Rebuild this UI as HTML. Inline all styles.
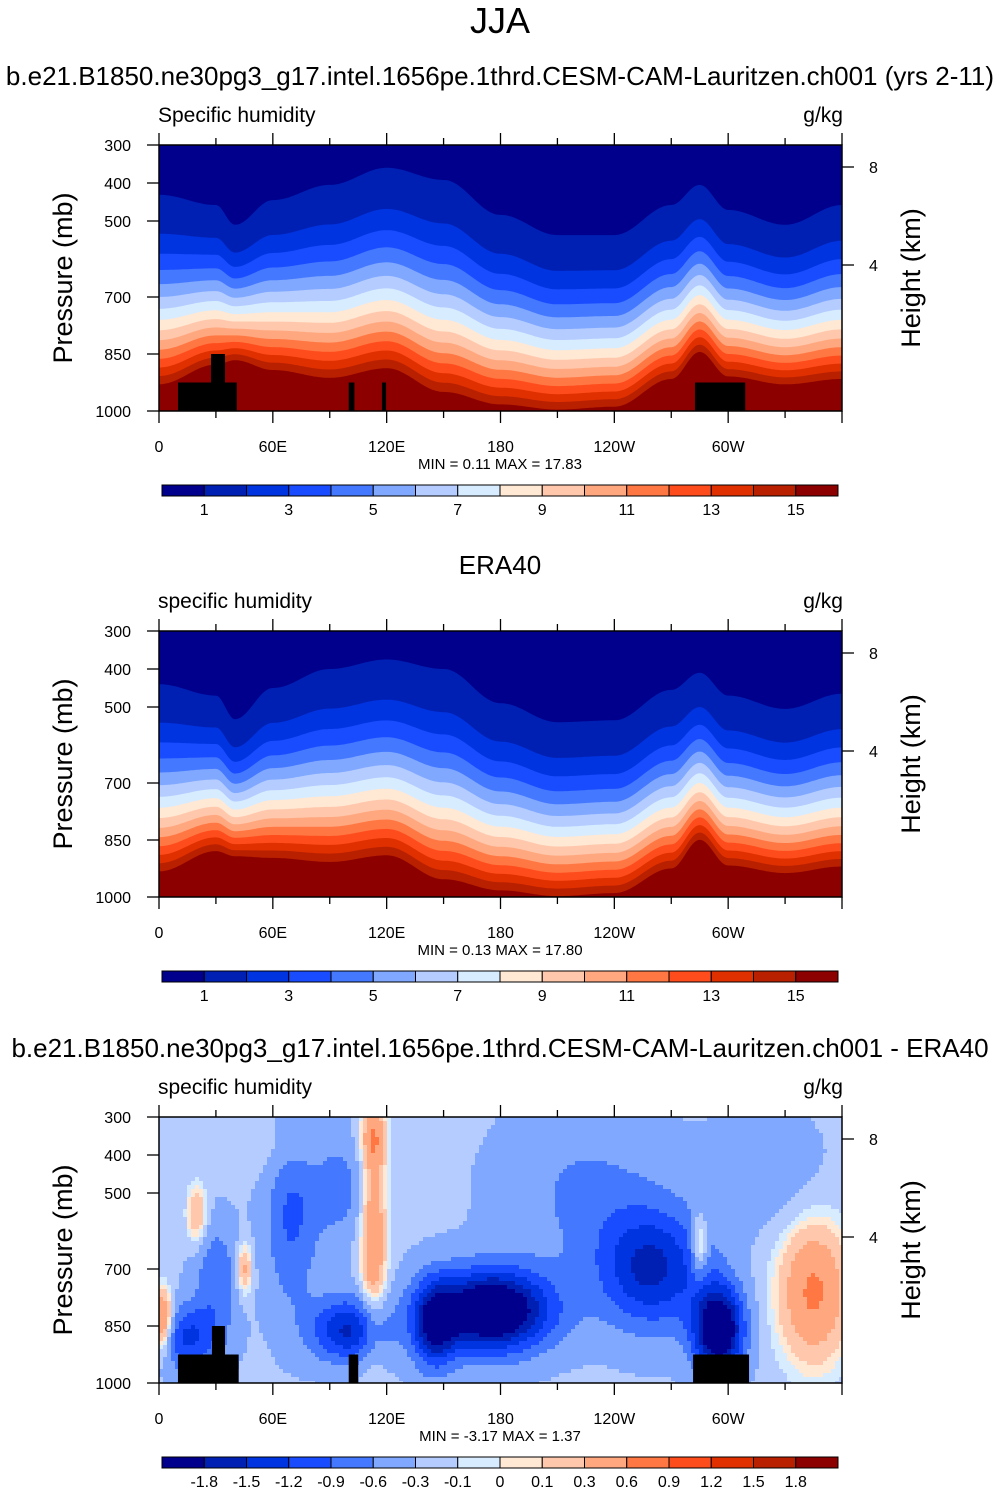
<!DOCTYPE html>
<html><head><meta charset="utf-8">
<style>
body{margin:0;background:#fff;}
svg{display:block;font-family:"Liberation Sans",Arial,sans-serif;}
</style></head>
<body>
<svg id="root" width="1001" height="1492" viewBox="0 0 1001 1492"></svg>
<script>
// ===== data =====
const colors=["#00008c","#0020b4","#0034e0","#1a4cff","#4478ff","#80a8ff","#b4ccff","#d8ecff","#ffe8d4","#ffc8ac","#ffa880","#ff7844","#ff4c1c","#e03000","#b82000","#8c0000"];
const qLevels=[1,2,3,4,5,6,7,8,9,10,11,12,13,14,15];
const qLabels=["1","3","5","7","9","11","13","15"];
const dLevels=[-1.8,-1.5,-1.2,-0.9,-0.6,-0.3,-0.1,0,0.1,0.3,0.6,0.9,1.2,1.5,1.8];
const dLabels=["-1.8","-1.5","-1.2","-0.9","-0.6","-0.3","-0.1","0","0.1","0.3","0.6","0.9","1.2","1.5","1.8"];
const lonPts=[0,30,40,60,90,120,150,180,210,240,270,285,300,330,360];
// pressure (mb) of q=1 g/kg and q=8 g/kg contours
const modelP1=[431,458,510,445,405,360,392,484,537,537,458,405,471,510,458];
const modelP8=[760,735,745,740,740,708,760,813,840,835,760,695,760,787,760];
const eraP1=[440,470,532,450,400,375,400,490,540,535,455,410,470,505,465];
const eraP8=[765,740,770,745,735,715,765,815,842,835,765,700,765,790,765];
// difference field blobs: lon, pressure, amplitude, sigma-lon, sigma-p
const diffBase=-0.25;
const diffBlobs=[
 [175,810,-2.3,22,75],[260,700,-1.3,20,110],[70,560,-0.7,10,170],[113,620,0.85,5,200],[113,350,0.6,5,60],
 [15,880,-1.0,12,60],[2,840,1.2,4,60],[45,700,0.7,3,50],[295,860,-2.2,9,80],[285,640,0.8,3,60],
 [345,760,0.9,14,140],[100,860,-1.3,14,60],[145,850,-1.3,8,80],[20,560,0.6,4,60],[95,480,-0.5,10,100],
 [225,500,-0.4,30,150],[320,450,-0.3,20,100],[30,720,-0.6,8,100],[60,380,0.2,20,60]];
const terrainModel=[[10,41,925],[27.4,34.8,850],[100,103,925],[117.5,119.7,925],[282.5,309,925]];
const terrainDiff=[[10,42,925],[27.9,34.8,850],[100,105,925],[281.5,311,925]];
const presTicks=[300,400,500,700,850,1000];
const lonTicks=[0,60,120,180,240,300];
const lonTickLabels=["0","60E","120E","180","120W","60W"];
// ===== helpers =====
const NS="http://www.w3.org/2000/svg";
const root=document.getElementById('root');
function el(tag,attrs,parent){const e=document.createElementNS(NS,tag);for(const k in attrs)e.setAttribute(k,attrs[k]);(parent||root).appendChild(e);return e;}
const X0=159,X1=842,PW=X1-X0;
function xs(lon){return X0+lon*PW/360;}
function interp(arr,lon){
 for(let i=0;i<lonPts.length-1;i++){if(lon<=lonPts[i+1]){const t=(lon-lonPts[i])/(lonPts[i+1]-lonPts[i]);const s=(1-Math.cos(Math.PI*t))/2;return arr[i]+(arr[i+1]-arr[i])*s;}}
 return arr[arr.length-1];}
function text(str,x,y,size,anchor,parent,name){const t=el('text',{x:x,y:y,'font-size':size,'text-anchor':anchor||'start',fill:'#000'},parent);t.textContent=str;
 
 return t;}
function panel(oy,type,p1,p8,terr,minmax,name){
 const g=el('g',{});
 
 
 const Y0=145+oy,Y1=411+oy;
 const ys=p=>Y0+(p-300)*(Y1-Y0)/700;
 const clip='c'+oy;
 const cp=el('clipPath',{id:clip},g);el('rect',{x:X0,y:Y0,width:PW,height:Y1-Y0},cp);
 const fg=el('g',{'clip-path':'url(#'+clip+')'},g);
 if(type==='q'){
  el('rect',{x:X0,y:Y0,width:PW,height:Y1-Y0,fill:colors[0]},fg);
  qLevels.forEach((L,i)=>{
   let d='M'+X0+','+Y1;
   const f=Math.pow((L-1)/7,0.6);
   for(let lon=0;lon<=360;lon+=1){const a=interp(p1,lon),b=interp(p8,lon);const p=a+(b-a)*f;d+=' L'+xs(lon).toFixed(1)+','+ys(p).toFixed(1);}
   d+=' L'+X1+','+Y1+'Z';
   const path=el('path',{d:d,fill:colors[i+1]},fg);
   
   
  });
 } else {
  const cw=4,ch=4;
  for(let x=X0;x<X1;x+=cw){for(let y=Y0;y<Y1;y+=ch){
   const lon=(x+cw/2-X0)*360/PW,p=300+(y+ch/2-Y0)*700/(Y1-Y0);
   let v=diffBase;diffBlobs.forEach(b=>{const dl=(lon-b[0])/b[3],dp=(p-b[1])/b[4];v+=b[2]*Math.exp(-0.5*(dl*dl+dp*dp));});
   let k=0;while(k<dLevels.length&&v>=dLevels[k])k++;
   el('rect',{x:x,y:y,width:cw+0.5,height:ch+0.5,fill:colors[k]},fg);
  }}
 }
 terr.forEach(t=>{const r=el('rect',{x:xs(t[0]),y:ys(t[2]),width:xs(t[1])-xs(t[0]),height:Y1-ys(t[2]),fill:'#000'},fg);
  
  });
 el('rect',{x:X0,y:Y0,width:PW,height:Y1-Y0,fill:'none',stroke:'#000','stroke-width':1.5},g);
 for(let lon=0;lon<=360;lon+=30){const major=lon%60===0;const len=major?12:7;const x=xs(lon);
  el('line',{x1:x,y1:Y1,x2:x,y2:Y1+len,stroke:'#000','stroke-width':1.3},g);
  el('line',{x1:x,y1:Y0,x2:x,y2:Y0-len,stroke:'#000','stroke-width':1.3},g);}
 lonTicks.forEach((l,i)=>text(lonTickLabels[i],xs(l),Y1+41,16,'middle',g,'x-tick-label'));
 presTicks.forEach(p=>{el('line',{x1:X0,y1:ys(p),x2:X0-12,y2:ys(p),stroke:'#000','stroke-width':1.3},g);
  text(String(p),131,ys(p)+6,16,'end',g,'y-tick-label');});
 [[8,167],[4,265]].forEach(h=>{el('line',{x1:X1,y1:h[1]+oy,x2:X1+12,y2:h[1]+oy,stroke:'#000','stroke-width':1.3},g);
  text(String(h[0]),869,h[1]+oy+6,16,'start',g,'height-tick-label');});
 const yl=text('Pressure (mb)',0,0,27,'middle',g,'y-axis-title');yl.setAttribute('transform','translate(72,'+(278+oy)+') rotate(-90)');
 const hl=text('Height (km)',0,0,27,'middle',g,'right-axis-title');hl.setAttribute('transform','translate(920,'+(278+oy)+') rotate(-90)');
 text(minmax,500,Y1+58,15,'middle',g,'min-max-label');
 const cb=el('g',{},g);
 
 
 const bx=162,bw=(838-162)/16,by=485+oy;
 colors.forEach((c,i)=>el('rect',{x:bx+i*bw,y:by,width:bw,height:11,fill:c,stroke:'#000','stroke-width':1},cb));
 if(type==='q'){qLabels.forEach((s,i)=>text(s,bx+(1+2*i)*bw,by+30,16,'middle',cb,'colorbar-label'));}
 else{dLabels.forEach((s,i)=>text(s,bx+(1+i)*bw,by+30,16,'middle',cb,'colorbar-label'));}
}
text('JJA',500,33,36,'middle',null,'figure-title');
text('b.e21.B1850.ne30pg3_g17.intel.1656pe.1thrd.CESM-CAM-Lauritzen.ch001 (yrs 2-11)',500,85,26,'middle',null,'model-title');
text('Specific humidity',158,122,21,'start',null,'variable-label');
text('g/kg',843,122,21,'end',null,'units-label');
panel(0,'q',modelP1,modelP8,terrainModel,'MIN =   0.11  MAX =  17.83','model-panel');
text('ERA40',500,574,26,'middle',null,'era-title');
text('specific humidity',158,608,21,'start',null,'variable-label');
text('g/kg',843,608,21,'end',null,'units-label');
panel(486,'q',eraP1,eraP8,[],'MIN =   0.13  MAX =  17.80','era-panel');
text('b.e21.B1850.ne30pg3_g17.intel.1656pe.1thrd.CESM-CAM-Lauritzen.ch001 - ERA40',500,1057,26,'middle',null,'diff-title');
text('specific humidity',158,1094,21,'start',null,'variable-label');
text('g/kg',843,1094,21,'end',null,'units-label');
panel(972,'d',null,null,terrainDiff,'MIN =  -3.17  MAX =   1.37','diff-panel');
</script>
</body></html>
